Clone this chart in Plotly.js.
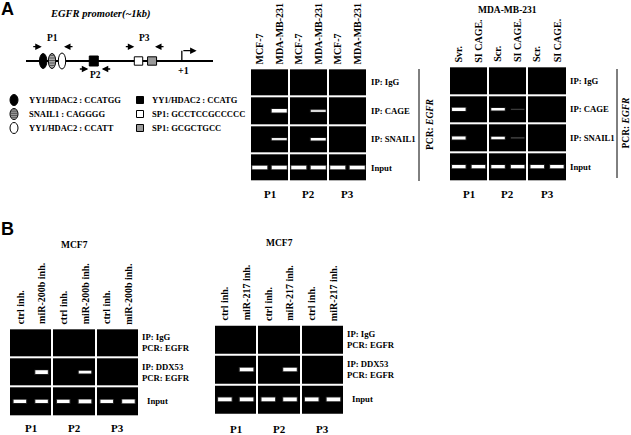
<!DOCTYPE html>
<html><head><meta charset="utf-8">
<script src="https://cdn.plot.ly/plotly-3.0.1.min.js"></script>
<style>html,body{margin:0;padding:0;background:#fff;}#chart{width:631px;height:435px;}</style>
</head><body><div id="chart"></div>
<script>
// ================= DATA =================
const blockNames = ["P1", "P2", "P3"];

// Panel A, left gel (ChIP, cell lines)
const a1Lanes = ["MCF-7", "MDA-MB-231", "MCF-7", "MDA-MB-231", "MCF-7", "MDA-MB-231"];
const a1Rows = ["IP: IgG", "IP: CAGE", "IP: SNAIL1", "Input"];
const a1IgG    = [0, 0, 0, 0, 0, 0];
const a1CAGE   = [0, 0.95, 0, 0.45, 0, 0];
const a1SNAIL1 = [0, 0.5, 0, 0.6, 0, 0];
const a1Input  = [0.95, 0.95, 1, 1, 1, 1];

// Panel A, right gel (MDA-MB-231, siRNA)
const a2Title = "MDA-MB-231";
const a2Lanes = ["Svr.", "SI CAGE.", "Scr.", "SI CAGE.", "Scr.", "SI CAGE."];
const a2Rows = ["IP: IgG", "IP: CAGE", "IP: SNAIL1", "Input"];
const a2IgG    = [0, 0, 0, 0, 0, 0];
const a2CAGE   = [0.85, 0, 0.6, 0.06, 0, 0];
const a2SNAIL1 = [0.8, 0, 0.6, 0.1, 0, 0];
const a2Input  = [0.85, 0.85, 0.8, 0.9, 0.85, 0.85];

// Panel B, left gel (miR-200b inhibitor)
const b1Title = "MCF7";
const b1Lanes = ["ctrl inh.", "miR-200b inh.", "ctrl inh.", "miR-200b inh.", "ctrl inh.", "miR-200b inh."];
const b1Rows = ["IP: IgG<br>PCR: EGFR", "IP: DDX53<br>PCR: EGFR", "Input"];
const b1IgG   = [0, 0, 0, 0, 0, 0];
const b1DDX53 = [0, 1, 0, 0.6, 0, 0];
const b1Input = [0.9, 0.85, 0.95, 1, 0.95, 1];

// Panel B, right gel (miR-217 inhibitor)
const b2Title = "MCF7";
const b2Lanes = ["ctrl inh.", "miR-217 inh.", "ctrl inh.", "miR-217 inh.", "ctrl inh.", "miR-217 inh."];
const b2Rows = ["IP: IgG<br>PCR: EGFR", "IP: DDX53<br>PCR: EGFR", "Input"];
const b2IgG   = [0, 0, 0, 0, 0, 0];
const b2DDX53 = [0, 1, 0, 0.9, 0, 0];
const b2Input = [1, 1, 1, 1, 1, 1];

// EGFR promoter map (bp relative to TSS)
const promoterTitle = "EGFR promoter(~1kb)";
const promoterSpan = [-1000, 200];
const tssPos = 0;
const siteNames = ["YY1/HDAC2 : CCATGG", "SNAIL1 : CAGGGG", "YY1/HDAC2 : CCATT",
                   "YY1/HDAC2 : CCATG", "SP1: GCCTCCGCCCCC", "SP1: GCGCTGCC"];
const sitePos = [-890, -833, -769, -565, -278, -191];
const primerNames = ["P1", "P2", "P3"];
const primerFwd = [-899, -600, -305];
const primerRev = [-756, -514, -172];

// ================= STYLE / LAYOUT =================
const W = 631, H = 435;
const SERIF = "Liberation Serif, Times New Roman, serif";
const SANS = "Liberation Sans, Arial, sans-serif";
const px = p => p / W, py = p => 1 - p / H;
const fnt = (size, extra) => Object.assign({family: SERIF, size: size, color: "#000", weight: "bold"}, extra || {});

const panels = [
  {box: [251, 69.3, 366, 180.7], lanes: a1Lanes, rows: a1Rows, data: [a1IgG, a1CAGE, a1SNAIL1, a1Input],
   bandLen: 15, rowShift: 2, inputShift: 0, pShift: -12.5, title: null},
  {box: [450, 67.3, 565.7, 180], lanes: a2Lanes, rows: a2Rows, data: [a2IgG, a2CAGE, a2SNAIL1, a2Input],
   bandLen: 13.5, rowShift: 1, inputShift: 0, pShift: -13.3, title: a2Title, titleY: 10},
  {box: [10, 329.3, 138.3, 415], lanes: b1Lanes, rows: b1Rows, data: [b1IgG, b1DDX53, b1Input],
   bandLen: 12.5, rowShift: 1, inputShift: 5, pShift: -11.7, title: b1Title, titleY: 245},
  {box: [215, 325.7, 343.3, 413.3], lanes: b2Lanes, rows: b2Rows, data: [b2IgG, b2DDX53, b2Input],
   bandLen: 13.5, rowShift: 1, inputShift: 5, pShift: -15, title: b2Title, titleY: 243.3}
];

const traces = [], annotations = [], shapes = [];
const layout = {
  width: W, height: H, margin: {l: 0, r: 0, t: 0, b: 0, pad: 0},
  paper_bgcolor: "#fff", plot_bgcolor: "#fff", showlegend: false,
  annotations: annotations, shapes: shapes
};

panels.forEach((p, k) => {
  const n = k + 1, xa = "x" + n, ya = "y" + n;
  const nR = p.rows.length, nL = p.lanes.length;
  const unitPerPx = nL / (p.box[2] - p.box[0] + 2);
  layout["xaxis" + n] = {domain: [px(p.box[0] - 1), px(p.box[2] + 1)], range: [-0.5, nL - 0.5],
    anchor: ya, visible: false, fixedrange: true};
  layout["yaxis" + n] = {domain: [py(p.box[3] + 1), py(p.box[1] - 1)], range: [nR - 0.5, -0.5],
    anchor: xa, visible: false, fixedrange: true};
  // black gel blocks
  traces.push({type: "heatmap", xaxis: xa, yaxis: ya,
    x: blockNames.map((b, i) => 2 * i + 0.5), y: p.rows.map((r, i) => i),
    z: p.rows.map(() => blockNames.map(() => 0)),
    colorscale: [[0, "#000"], [1, "#000"]], zmin: 0, zmax: 1, showscale: false,
    xgap: 2, ygap: 2, hoverinfo: "skip"});
  // bands: one short horizontal stroke per (row, lane), width/brightness from intensity
  const half = p.bandLen / 2 * unitPerPx, halfGlow = (p.bandLen / 2 + 1) * unitPerPx;
  p.data.forEach((row, r) => row.forEach((v, i) => {
    if (v <= 0.02) return;
    traces.push({type: "scatter", mode: "lines", xaxis: xa, yaxis: ya, hoverinfo: "skip",
      x: [i - halfGlow, i + halfGlow], y: [r, r],
      line: {color: "rgba(255,255,255," + (0.18 * v).toFixed(2) + ")", width: 2.5 + 2.5 * v}});
    traces.push({type: "scatter", mode: "lines", xaxis: xa, yaxis: ya, hoverinfo: "skip",
      x: [i - half, i + half], y: [r, r],
      line: {color: "rgba(255,255,255," + Math.min(1, 0.12 + 1.6 * v).toFixed(2) + ")", width: 1.0 + 2.6 * v}});
  }));
  // lane labels
  p.lanes.forEach((t, i) => annotations.push({xref: xa, yref: ya, x: i, y: -0.5, text: t, textangle: -90,
    xanchor: "center", yanchor: "bottom", yshift: 2, showarrow: false, font: fnt(10)}));
  // row labels
  p.rows.forEach((t, r) => annotations.push({xref: xa, yref: ya, x: nL - 0.5, y: r, text: t,
    xanchor: "left", yanchor: "middle", align: "left", xshift: p.rowShift + (t === "Input" ? p.inputShift : 0),
    showarrow: false, font: fnt(8.7)}));
  // block labels
  blockNames.forEach((b, i) => annotations.push({xref: xa, yref: ya, x: 2 * i + 0.5, y: nR - 0.5, text: b,
    xanchor: "center", yanchor: "middle", yshift: p.pShift, showarrow: false, font: fnt(11)}));
  if (p.title) annotations.push({xref: xa, yref: "paper", x: (nL - 1) / 2, y: py(p.titleY), text: p.title,
    xanchor: "center", yanchor: "middle", showarrow: false, font: fnt(9.5)});
});

// PCR: EGFR brackets for panel A
[[419, 69, 181, 430, 124], [617, 69, 178, 626, 123.5]].forEach(s => {
  shapes.push({type: "line", xref: "paper", yref: "paper", x0: px(s[0]), x1: px(s[0]), y0: py(s[1]), y1: py(s[2]),
    line: {color: "#000", width: 1}});
  annotations.push({xref: "paper", yref: "paper", x: px(s[3]), y: py(s[4]), text: "PCR: <i>EGFR</i>",
    textangle: -90, xanchor: "center", yanchor: "middle", showarrow: false, font: fnt(9.5)});
});

// panel letters
annotations.push({xref: "paper", yref: "paper", x: px(7.5), y: py(9), text: "A", showarrow: false,
  xanchor: "center", yanchor: "middle", font: {family: SANS, size: 18, color: "#000", weight: "bold"}});
annotations.push({xref: "paper", yref: "paper", x: px(7.5), y: py(228.5), text: "B", showarrow: false,
  xanchor: "center", yanchor: "middle", font: {family: SANS, size: 18, color: "#000", weight: "bold"}});

// ---------- promoter diagram ----------
layout.xaxis5 = {domain: [px(26), px(213)], range: promoterSpan, anchor: "y5", visible: false, fixedrange: true};
layout.yaxis5 = {domain: [py(91), py(31)], range: [-30, 30], anchor: "x5", visible: false, fixedrange: true};
traces.push({type: "scatter", mode: "lines", xaxis: "x5", yaxis: "y5", x: promoterSpan, y: [0, 0],
  line: {color: "#000", width: 2}, hoverinfo: "skip"});
annotations.push({xref: "paper", yref: "paper", x: px(100), y: py(14), text: promoterTitle, showarrow: false,
  xanchor: "center", yanchor: "middle", font: fnt(10.5, {style: "italic"})});

const SITE_STYLE = [
  {kind: "circle", fill: "#000", w: 3.7, h: 7.5},
  {kind: "circle", fill: "#a8a8a8", w: 3.7, h: 7.5, hatch: true},
  {kind: "circle", fill: "#fff", w: 3.7, h: 8},
  {kind: "rect", fill: "#000", w: 4.5, h: 5},
  {kind: "rect", fill: "#fff", w: 4.2, h: 4.2},
  {kind: "rect", fill: "#9a9a9a", w: 4.5, h: 4.2}
];
function siteShape(st, xref, yref, xa, ya) {
  const out = [{type: st.kind, xref: xref, yref: yref, xsizemode: "pixel", ysizemode: "pixel",
    xanchor: xa, yanchor: ya, x0: -st.w, x1: st.w, y0: -st.h, y1: st.h,
    fillcolor: st.fill, line: {color: "#000", width: 1}}];
  if (st.hatch) [-4.5, -2, 0.5, 3, 5.5].forEach(o => out.push({type: "line", xref: xref, yref: yref,
    xsizemode: "pixel", ysizemode: "pixel", xanchor: xa, yanchor: ya, x0: -st.w + 0.8, x1: st.w - 0.8,
    y0: o * st.h / 7.5, y1: o * st.h / 7.5, line: {color: "#444", width: 0.8}}));
  return out;
}
sitePos.forEach((pos, i) => siteShape(SITE_STYLE[i], "x5", "y5", pos, 0).forEach(s => shapes.push(s)));

// primers
const primerY = [14.3, -8, 14.3], primerLabelY = [22.7, -14, 22.7];
primerNames.forEach((nm, i) => {
  annotations.push({xref: "x5", yref: "y5", x: primerFwd[i], y: primerY[i], ax: -10, ay: 0, text: "",
    showarrow: true, arrowhead: 2, arrowsize: 1, arrowwidth: 1.3, standoff: 0, arrowcolor: "#000"});
  annotations.push({xref: "x5", yref: "y5", x: primerRev[i], y: primerY[i], ax: 10, ay: 0, text: "",
    showarrow: true, arrowhead: 2, arrowsize: 1, arrowwidth: 1.3, standoff: 0, arrowcolor: "#000"});
  annotations.push({xref: "x5", yref: "y5", x: (primerFwd[i] + primerRev[i]) / 2, y: primerLabelY[i], text: nm,
    showarrow: false, xanchor: "center", yanchor: "middle", font: fnt(9.5)});
});
// TSS
shapes.push({type: "line", xref: "x5", yref: "y5", x0: tssPos, x1: tssPos, y0: 0, y1: 10.3,
  line: {color: "#000", width: 1.3}});
annotations.push({xref: "x5", yref: "y5", x: tssPos + 95, y: 10.3, axref: "x5", ayref: "y5", ax: tssPos, ay: 10.3,
  text: "", showarrow: true, arrowhead: 2, arrowsize: 1, arrowwidth: 1.3, standoff: 0, arrowcolor: "#000"});
annotations.push({xref: "x5", yref: "y5", x: tssPos, y: -9.7, xshift: 2, text: "+1", showarrow: false,
  xanchor: "center", yanchor: "middle", font: fnt(10)});

// legend of sites
siteNames.forEach((nm, i) => {
  const col = i < 3 ? 0 : 1, r = i % 3;
  const cx = col ? 140 : 14, tx = col ? 150 : 27, cy = 100 + r * 14;
  const st = SITE_STYLE[i];
  siteShape(Object.assign({}, st, {w: st.kind === "rect" ? 3.5 : 4, h: st.kind === "rect" ? 3.5 : 5.5}),
    "paper", "paper", px(cx), py(cy)).forEach(s => shapes.push(s));
  annotations.push({xref: "paper", yref: "paper", x: px(tx), y: py(cy), text: nm, showarrow: false,
    xanchor: "left", yanchor: "middle", font: fnt(8.5)});
});

Plotly.newPlot("chart", traces, layout, {displayModeBar: false, staticPlot: true});
</script>
</body></html>
